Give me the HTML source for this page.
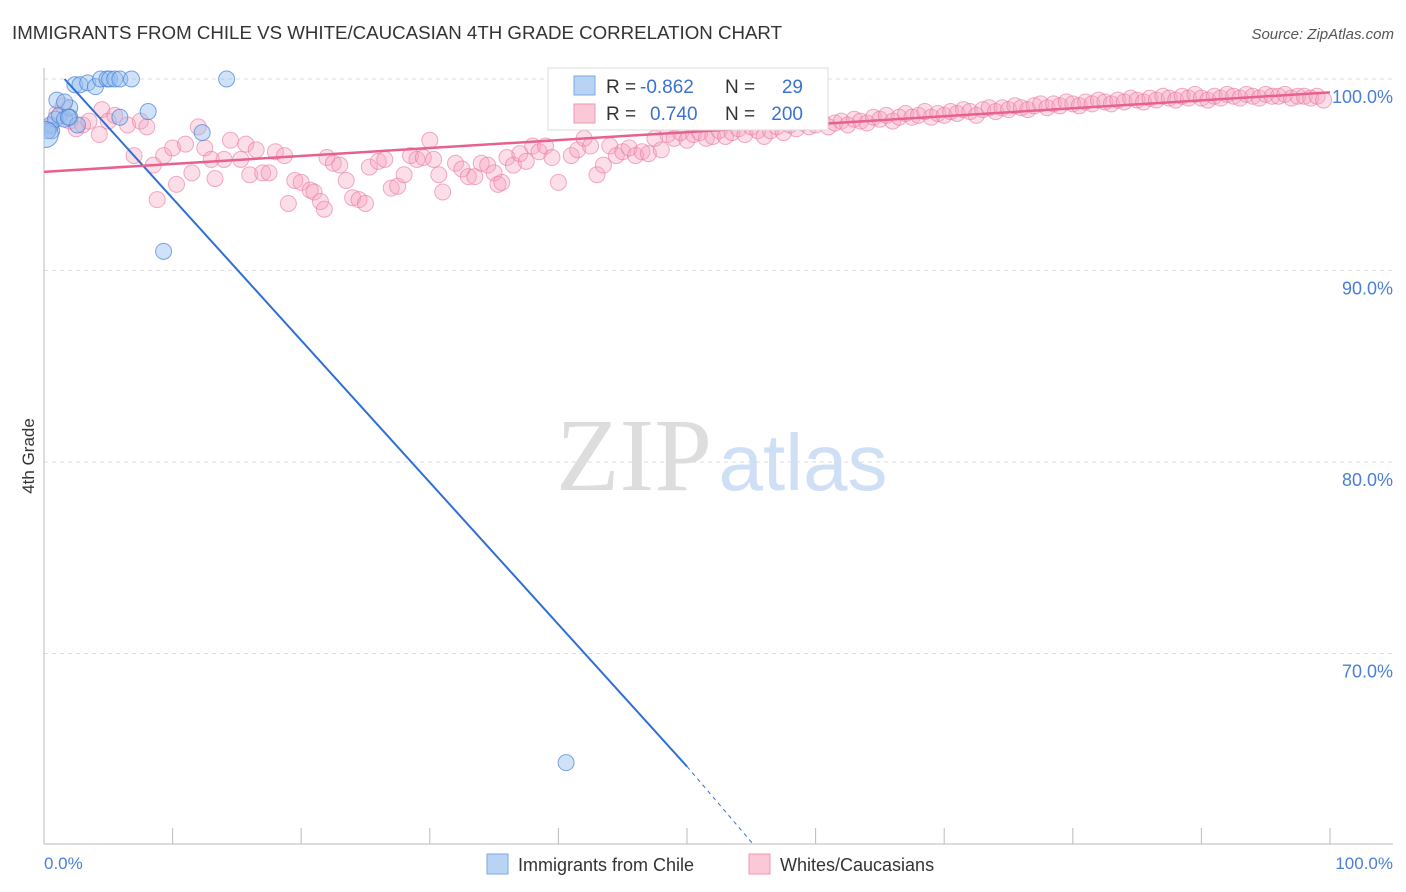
<!DOCTYPE html>
<html><head><meta charset="utf-8"><style>
body{margin:0;background:#fff;font-family:"Liberation Sans",sans-serif;}
svg{display:block}
</style></head><body>
<svg id="chart" width="1406" height="892" xmlns="http://www.w3.org/2000/svg">
<defs><clipPath id="plotclip"><rect x="44" y="60" width="1360" height="784"/></clipPath></defs>
<text x="12" y="39" font-size="18" fill="#333" textLength="770" lengthAdjust="spacingAndGlyphs">IMMIGRANTS FROM CHILE VS WHITE/CAUCASIAN 4TH GRADE CORRELATION CHART</text>
<text x="1394" y="39" font-size="15" fill="#555" font-style="italic" text-anchor="end">Source: ZipAtlas.com</text>
<g>
<text x="634" y="490" font-family="Liberation Serif,serif" font-size="104" fill="#ddd" text-anchor="middle">ZIP</text>
<text x="803" y="490" font-size="80" fill="#cfdff5" text-anchor="middle">atlas</text>
</g>
<g id="grid"></g>
<g id="axes"></g>
<g id="pinkpts" clip-path="url(#plotclip)"></g>
<g id="bluepts" clip-path="url(#plotclip)"></g>
<g id="lines"></g>
<text transform="translate(34,456) rotate(-90)" font-size="17" fill="#333" text-anchor="middle">4th Grade</text>
<text x="44" y="869" font-size="17" fill="#4a7fd4">0.0%</text>
<text x="1393" y="869" font-size="17" fill="#4a7fd4" text-anchor="end">100.0%</text>
<g>
<rect x="548" y="68" width="280" height="62" fill="#fff" stroke="#ddd"/>
<rect x="574" y="76" width="21" height="19" fill="#b9d3f5" stroke="#7aa7e3"/>
<rect x="574" y="104" width="21" height="19" fill="#fbc8d8" stroke="#ee9ab4"/>
<text x="606" y="93" font-size="19" fill="#333">R =</text>
<text x="640" y="93" font-size="19" fill="#3a72d0">-0.862</text>
<text x="725" y="93" font-size="19" fill="#333">N =</text>
<text x="803" y="93" font-size="19" fill="#3a72d0" text-anchor="end">29</text>
<text x="606" y="120" font-size="19" fill="#333">R =</text>
<text x="650" y="120" font-size="19" fill="#3a72d0">0.740</text>
<text x="725" y="120" font-size="19" fill="#333">N =</text>
<text x="803" y="120" font-size="19" fill="#3a72d0" text-anchor="end">200</text>
</g>
<g>
<rect x="487" y="854" width="21" height="20" fill="#b9d3f5" stroke="#7aa7e3"/>
<text x="518" y="871" font-size="18" fill="#333">Immigrants from Chile</text>
<rect x="749" y="854" width="21" height="20" fill="#fbc8d8" stroke="#ee9ab4"/>
<text x="780" y="871" font-size="18" fill="#333">Whites/Caucasians</text>
</g>
</svg>
<script>
const yTicks=[100,90,80,70];
const yTickLabels=["100.0%","90.0%","80.0%","70.0%"];
const xTicks=[0,10,20,30,40,50,60,70,80,90,100];
const blueX=[0.5,0.6,0.9,1.2,1.6,2.0,2.0,2.4,2.8,3.4,4.0,4.4,4.9,5.1,5.5,5.9,6.8,14.2,8.1,12.3,9.3,40.6,1.0,1.6,2.6,0.3,0.1,1.9,5.9];
const blueY=[97.6,97.3,97.9,98.1,97.9,98.5,98.0,99.7,99.7,99.8,99.6,100,100,100,100,100,100,100,98.3,97.2,91.0,64.3,98.9,98.8,97.6,97.3,97.1,98.0,98.0];
const pinkX=[0.5,1,1.5,2,2.5,3,3.5,4.3,4.5,5,5.5,6.5,7,7.5,8,8.5,8.8,9.3,10,10.3,11,11.5,12,12.5,13,13.3,14,14.5,15.3,15.7,16,16.5,17,17.5,18,18.7,19,19.5,20,20.7,21,21.5,21.8,22,22.5,23,23.5,24,24.5,25,25.3,26,26.5,27,27.5,28,28.5,29,29.5,30,30.3,30.7,31,32,32.5,33,33.5,34,34.5,35,35.3,35.6,36,36.5,37,37.5,38,38.5,39,39.5,40,41,41.5,42,42.5,43,43.5,44,44.5,45,45.5,46,46.5,47,47.5,48,
48.5,49,49.5,50,50.5,51,51.5,52,52.5,53,53.5,54,54.5,55,55.5,56,56.5,57,57.5,58,58.5,59,59.5,60,60.5,61,61.5,62,62.5,63,63.5,64,64.5,65,65.5,66,66.5,67,67.5,68,68.5,69,69.5,70,70.5,71,71.5,72,72.5,73,73.5,74,74.5,75,75.5,76,76.5,77,77.5,78,78.5,79,79.5,80,80.5,81,81.5,82,82.5,83,83.5,84,84.5,85,85.5,86,86.5,87,87.5,88,88.5,89,89.5,90,90.5,91,91.5,92,92.5,93,93.5,94,94.5,95,95.5,96,96.5,97,97.5,98,98.5,99,99.5];
const pinkY=[97.5,98.2,98.6,97.8,97.4,97.6,97.8,97.1,98.4,97.8,98.1,97.6,96.0,97.8,97.5,95.5,93.7,96.0,96.4,94.5,96.6,95.1,97.5,96.4,95.8,94.8,95.8,96.8,95.8,96.6,95.0,96.3,95.1,95.1,96.2,96.0,93.5,94.7,94.6,94.2,94.1,93.6,93.2,95.9,95.6,95.5,94.7,93.8,93.7,93.5,95.4,95.7,95.8,94.3,94.4,95.0,96.0,95.8,95.9,96.8,95.8,95.0,94.1,95.6,95.3,94.9,94.9,95.6,95.5,95.1,94.5,94.6,95.9,95.5,96.1,95.7,96.5,96.2,96.5,95.9,94.6,96.0,96.3,96.9,96.5,95.0,95.5,96.5,96.0,96.2,96.4,96.0,96.2,96.1,96.9,96.3,
97.1,96.9,97.2,96.8,97.1,97.2,96.9,97.0,97.3,97.0,97.2,97.4,97.1,97.5,97.3,97.0,97.3,97.5,97.2,97.6,97.4,97.7,97.5,97.6,97.8,97.5,97.7,97.8,97.6,97.9,97.8,97.7,98.0,97.9,98.1,97.8,98.0,98.2,98.0,98.1,98.3,98.0,98.2,98.1,98.3,98.2,98.4,98.3,98.1,98.4,98.5,98.3,98.5,98.4,98.6,98.5,98.4,98.6,98.7,98.5,98.7,98.6,98.8,98.7,98.6,98.8,98.7,98.9,98.8,98.7,98.9,98.8,99.0,98.9,98.8,99.0,98.9,99.1,99.0,98.9,99.1,99.0,99.2,99.0,98.9,99.1,99.0,99.2,99.1,99.0,99.2,99.1,99.0,99.2,99.1,99.1,99.2,99.0,99.1,99.1,99.0,99.1,98.9];
const blueTrendX=[1.6,50,55.2];
const blueTrendY=[100,64.1,60];
const pinkTrendX=[0,100];
const pinkTrendY=[95.15,99.3];

const X=v=>44+v*12.86;
const Y=v=>79+(100-v)*19.15;
const NS="http://www.w3.org/2000/svg";
function mk(tag,attrs,parent){const e=document.createElementNS(NS,tag);for(const k in attrs)e.setAttribute(k,attrs[k]);document.getElementById(parent).appendChild(e);return e;}

yTicks.forEach((t,i)=>{
  const l=mk('line',{x1:44,x2:1393,y1:Y(t),y2:Y(t),stroke:'#ddd','stroke-dasharray':'4,4'},'grid');
  
  
  const tx=mk('text',{x:1393,y:Y(t)+24,'font-size':18,fill:'#4a7fd4','text-anchor':'end'},'grid');
  tx.textContent=yTickLabels[i];
  
  
});
const ya=mk('line',{x1:44,x2:44,y1:68,y2:844,stroke:'#bbb'},'axes');


const xa=mk('line',{x1:44,x2:1393,y1:844,y2:844,stroke:'#bbb'},'axes');


xTicks.forEach(t=>{
  const k=mk('line',{x1:X(t),x2:X(t),y1:828,y2:844,stroke:'#bbb'},'axes');
  
  
});
pinkX.forEach((x,i)=>{
  const c=mk('circle',{cx:X(x),cy:Y(pinkY[i]),r:8,fill:'rgba(246,160,188,0.35)',stroke:'rgba(232,120,155,0.6)','stroke-width':1},'pinkpts');
  
  
});
blueX.forEach((x,i)=>{
  const c=mk('circle',{cx:X(x),cy:Y(blueY[i]),r:(i==26?13:8),fill:'rgba(150,190,240,0.45)',stroke:'rgba(70,130,215,0.7)','stroke-width':1},'bluepts');
  
  
});
const bl=mk('line',{x1:X(blueTrendX[0]),y1:Y(blueTrendY[0]),x2:X(blueTrendX[1]),y2:Y(blueTrendY[1]),stroke:'#2f6fd6','stroke-width':2},'lines');


const bd=mk('line',{x1:X(blueTrendX[1]),y1:Y(blueTrendY[1]),x2:X(blueTrendX[2]),y2:Y(blueTrendY[2]),stroke:'#2f6fd6','stroke-width':1,'stroke-dasharray':'4,4'},'lines');


const pl=mk('line',{x1:X(pinkTrendX[0]),y1:Y(pinkTrendY[0]),x2:X(pinkTrendX[1]),y2:Y(pinkTrendY[1]),stroke:'#e8618c','stroke-width':2.5},'lines');


</script>
</body></html>
